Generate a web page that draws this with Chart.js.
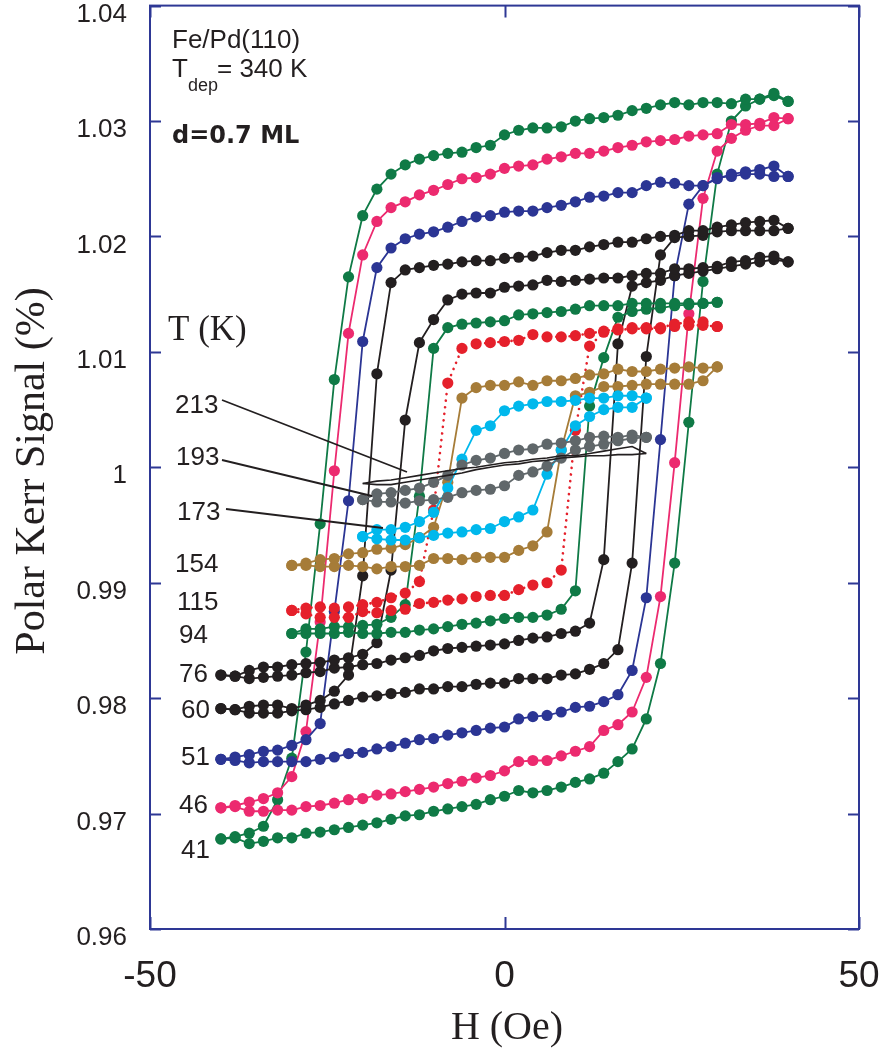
<!DOCTYPE html>
<html>
<head>
<meta charset="utf-8">
<title>Fe/Pd(110) polar Kerr loops</title>
<script src="https://cdn.jsdelivr.net/npm/chart.js@4.4.1/dist/chart.umd.min.js"></script>
<style>
  html, body { margin: 0; padding: 0; background: #fff; }
  #wrap { width: 882px; height: 1059px; }
</style>
</head>
<body>
<div id="wrap"><canvas id="kerr" width="882" height="1059"></canvas></div>
<script>
// field sweeps (Oe)
var h40 = [-40, -38, -36, -34, -32, -30, -28, -26, -24, -22, -20, -18, -16, -14, -12, -10, -8, -6, -4, -2,
           0, 2, 4, 6, 8, 10, 12, 14, 16, 18, 20, 22, 24, 26, 28, 30, 32, 34, 36, 38, 40];
var h30 = [-30, -28, -26, -24, -22, -20, -18, -16, -14, -12, -10, -8, -6, -4, -2,
           0, 2, 4, 6, 8, 10, 12, 14, 16, 18, 20, 22, 24, 26, 28, 30];
var h20 = [-20, -18, -16, -14, -12, -10, -8, -6, -4, -2, 0, 2, 4, 6, 8, 10, 12, 14, 16, 18, 20];

// Kerr signal (%). "up" = field swept upwards, "down" = field swept downwards.
// Both branches are listed from negative to positive field.
var up41 = [0.9678, 0.9679, 0.9674, 0.9676, 0.9679, 0.9679, 0.9683, 0.9684, 0.9686, 0.9688,
            0.9690, 0.9692, 0.9695, 0.9698, 0.9699, 0.9702, 0.9704, 0.9706, 0.9708, 0.9712,
            0.9715, 0.9720, 0.9718, 0.9720, 0.9723, 0.9727, 0.9730, 0.9735, 0.9745, 0.9756,
            0.9782, 0.9830, 0.9917, 1.0039, 1.0161, 1.0254, 1.0300, 1.0313, 1.0319, 1.0322,
            1.0317];
var down41 = [0.9678, 0.9680, 0.9683, 0.9689, 0.9712, 0.9748, 0.9840, 0.9951, 1.0076, 1.0165,
              1.0218, 1.0241, 1.0254, 1.0262, 1.0267, 1.0270, 1.0272, 1.0273, 1.0277, 1.0279,
              1.0288, 1.0292, 1.0294, 1.0294, 1.0295, 1.0300, 1.0302, 1.0303, 1.0305, 1.0309,
              1.0311, 1.0314, 1.0316, 1.0314, 1.0316, 1.0316, 1.0315, 1.0319, 1.0319, 1.0324,
              1.0317];

var up46 = [0.9705, 0.9706, 0.9702, 0.9702, 0.9703, 0.9703, 0.9706, 0.9707, 0.9709, 0.9712,
            0.9713, 0.9716, 0.9717, 0.9719, 0.9721, 0.9723, 0.9726, 0.9728, 0.9731, 0.9733,
            0.9737, 0.9745, 0.9746, 0.9746, 0.9750, 0.9754, 0.9758, 0.9772, 0.9777, 0.9788,
            0.9818, 0.9888, 1.0004, 1.0133, 1.0233, 1.0274, 1.0285, 1.0292, 1.0296, 1.0296,
            1.0302];
var down46 = [0.9705, 0.9707, 0.9710, 0.9713, 0.9718, 0.9732, 0.9771, 0.9866, 0.9997, 1.0116,
              1.0184, 1.0213, 1.0225, 1.0230, 1.0236, 1.0240, 1.0245, 1.0250, 1.0251, 1.0254,
              1.0259, 1.0261, 1.0262, 1.0267, 1.0269, 1.0272, 1.0272, 1.0274, 1.0277, 1.0279,
              1.0282, 1.0283, 1.0284, 1.0287, 1.0288, 1.0289, 1.0297, 1.0297, 1.0298, 1.0303,
              1.0302];

var up51 = [0.9747, 0.9746, 0.9744, 0.9745, 0.9745, 0.9745, 0.9745, 0.9747, 0.9749, 0.9752,
            0.9753, 0.9756, 0.9758, 0.9761, 0.9764, 0.9765, 0.9768, 0.9770, 0.9772, 0.9774,
            0.9775, 0.9782, 0.9784, 0.9785, 0.9788, 0.9792, 0.9793, 0.9797, 0.9803, 0.9824,
            0.9887, 1.0024, 1.0166, 1.0228, 1.0244, 1.0250, 1.0254, 1.0256, 1.0258, 1.0261,
            1.0252];
var down51 = [0.9747, 0.9749, 0.9751, 0.9754, 0.9755, 0.9759, 0.9764, 0.9778, 0.9875, 0.9971,
              1.0109, 1.0173, 1.0190, 1.0198, 1.0202, 1.0204, 1.0208, 1.0213, 1.0217, 1.0218,
              1.0221, 1.0222, 1.0222, 1.0225, 1.0227, 1.0230, 1.0234, 1.0235, 1.0238, 1.0238,
              1.0244, 1.0247, 1.0246, 1.0244, 1.0244, 1.0251, 1.0252, 1.0254, 1.0254, 1.0252,
              1.0252];

var up60 = [0.9791, 0.9790, 0.9787, 0.9787, 0.9787, 0.9789, 0.9790, 0.9792, 0.9795, 0.9798,
            0.9801, 0.9802, 0.9804, 0.9805, 0.9808, 0.9808, 0.9810, 0.9810, 0.9812, 0.9813,
            0.9813, 0.9817, 0.9817, 0.9817, 0.9820, 0.9821, 0.9825, 0.9830, 0.9842, 0.9917,
            1.0096, 1.0184, 1.0199, 1.0200, 1.0201, 1.0204, 1.0205, 1.0205, 1.0205, 1.0205,
            1.0207];
var down60 = [0.9791, 0.9790, 0.9793, 0.9794, 0.9794, 0.9791, 0.9794, 0.9798, 0.9806, 0.9820,
              0.9906, 1.0081, 1.0160, 1.0171, 1.0173, 1.0175, 1.0176, 1.0178, 1.0179, 1.0179,
              1.0181, 1.0182, 1.0183, 1.0186, 1.0188, 1.0188, 1.0191, 1.0193, 1.0195, 1.0195,
              1.0198, 1.0200, 1.0201, 1.0205, 1.0205, 1.0208, 1.0210, 1.0212, 1.0213, 1.0214,
              1.0207];

var up76 = [0.9820, 0.9819, 0.9817, 0.9818, 0.9819, 0.9820, 0.9822, 0.9823, 0.9826, 0.9827,
            0.9829, 0.9830, 0.9833, 0.9835, 0.9837, 0.9841, 0.9843, 0.9844, 0.9845, 0.9846,
            0.9847, 0.9850, 0.9852, 0.9853, 0.9856, 0.9858, 0.9865, 0.9920, 1.0107, 1.0157,
            1.0160, 1.0162, 1.0166, 1.0168, 1.0170, 1.0172, 1.0174, 1.0176, 1.0178, 1.0180,
            1.0178];
var down76 = [0.9820, 0.9819, 0.9824, 0.9827, 0.9827, 0.9829, 0.9830, 0.9831, 0.9833, 0.9835,
              0.9838, 0.9848, 0.9911, 1.0041, 1.0108, 1.0128, 1.0145, 1.0150, 1.0151, 1.0151,
              1.0156, 1.0157, 1.0158, 1.0162, 1.0161, 1.0162, 1.0163, 1.0164, 1.0164, 1.0166,
              1.0168, 1.0168, 1.0172, 1.0172, 1.0173, 1.0174, 1.0178, 1.0179, 1.0182, 1.0183,
              1.0178];

var up94 = [0.9856, 0.9856, 0.9856, 0.9856, 0.9857, 0.9856, 0.9856, 0.9857, 0.9857, 0.9859,
            0.9860, 0.9862, 0.9864, 0.9865, 0.9867, 0.9869, 0.9870, 0.9870, 0.9872, 0.9877,
            0.9893, 1.0053, 1.0095, 1.0130, 1.0135, 1.0137, 1.0138, 1.0140, 1.0141, 1.0142,
            1.0143];
var down94 = [0.9856, 0.9860, 0.9860, 0.9862, 0.9862, 0.9863, 0.9864, 0.9870, 0.9881, 0.9975,
              1.0103, 1.0121, 1.0124, 1.0125, 1.0126, 1.0127, 1.0132, 1.0133, 1.0134, 1.0135,
              1.0137, 1.0140, 1.0140, 1.0140, 1.0142, 1.0142, 1.0142, 1.0142, 1.0142, 1.0142,
              1.0143];

var up115 = [0.9876, 0.9873, 0.9870, 0.9870, 0.9870, 0.9875, 0.9874, 0.9876, 0.9877, 0.9882,
             0.9883, 0.9885, 0.9886, 0.9888, 0.9889, 0.9889, 0.9894, 0.9898, 0.9900, 0.9911,
             1.0032, 1.0105, 1.0117, 1.0119, 1.0120, 1.0120, 1.0120, 1.0122, 1.0123, 1.0123,
             1.0122];
var down115 = [0.9876, 0.9878, 0.9879, 0.9878, 0.9879, 0.9881, 0.9883, 0.9887, 0.9891, 0.9901,
               0.9963, 1.0073, 1.0103, 1.0107, 1.0108, 1.0109, 1.0110, 1.0115, 1.0113, 1.0113,
               1.0114, 1.0116, 1.0118, 1.0120, 1.0121, 1.0121, 1.0121, 1.0124, 1.0126, 1.0126,
               1.0122];

var up154 = [0.9915, 0.9915, 0.9914, 0.9914, 0.9915, 0.9914, 0.9912, 0.9914, 0.9914, 0.9915,
             0.9921, 0.9921, 0.9920, 0.9922, 0.9922, 0.9922, 0.9928, 0.9932, 0.9944, 1.0015,
             1.0062, 1.0065, 1.0070, 1.0070, 1.0071, 1.0072, 1.0072, 1.0072, 1.0072, 1.0075,
             1.0087];
var down154 = [0.9915, 0.9917, 0.9920, 0.9921, 0.9925, 0.9926, 0.9929, 0.9930, 0.9933, 0.9939,
               0.9948, 0.9987, 1.0060, 1.0069, 1.0071, 1.0071, 1.0074, 1.0071, 1.0075, 1.0075,
               1.0077, 1.0080, 1.0081, 1.0085, 1.0083, 1.0083, 1.0085, 1.0086, 1.0087, 1.0086,
               1.0087];

var up173 = [0.9940, 0.9938, 0.9937, 0.9937, 0.9939, 0.9941, 0.9943, 0.9944, 0.9946, 0.9947,
             0.9953, 0.9957, 0.9963, 0.9994, 1.0015, 1.0036, 1.0044, 1.0050, 1.0052, 1.0052,
             1.0060];
var down173 = [0.9940, 0.9946, 0.9946, 0.9948, 0.9953, 0.9961, 0.9982, 1.0007, 1.0032, 1.0036,
               1.0049, 1.0053, 1.0055, 1.0057, 1.0057, 1.0058, 1.0060, 1.0060, 1.0062, 1.0062,
               1.0060];

var up193 = [0.9972, 0.9970, 0.9970, 0.9969, 0.9971, 0.9972, 0.9974, 0.9978, 0.9980, 0.9981,
             0.9984, 0.9993, 0.9996, 1.0001, 1.0008, 1.0015, 1.0018, 1.0020, 1.0023, 1.0025,
             1.0026];
var down193 = [0.9972, 0.9977, 0.9978, 0.9980, 0.9982, 0.9987, 0.9993, 1.0002, 1.0006, 1.0008,
               1.0012, 1.0015, 1.0016, 1.0020, 1.0021, 1.0023, 1.0026, 1.0027, 1.0026, 1.0028,
               1.0026];

var up213 = [0.9986, 0.9985, 0.9985, 0.9987, 0.9989, 0.9991, 0.9993, 0.9995, 0.9998, 1.0000,
             1.0002, 1.0003, 1.0005, 1.0006, 1.0008, 1.0009, 1.0010, 1.0010, 1.0011, 1.0011,
             1.0012];
var down213 = [0.9986, 0.9988, 0.9989, 0.9991, 0.9993, 0.9995, 0.9997, 0.9999, 1.0000, 1.0002,
               1.0004, 1.0005, 1.0007, 1.0008, 1.0010, 1.0010, 1.0012, 1.0014, 1.0016, 1.0018,
               1.0012];

var xTickValues = [-50, 0, 50];
var temps = ['213', '193', '173', '154', '115', '94', '76', '60', '51', '46', '41'];

var GREEN = '#0f7a46', PINK = '#ec2a6f', BLUE = '#2b3594', BLACK = '#231f20',
    RED = '#e5202b', BROWN = '#a67c38', CYAN = '#00b8ec', GRAY = '#60676a';
var AXIS = '#2e3895';

// first entry ends up on top
var loops = [
  { t: '213', h: h20, up: up213, down: down213, color: BLACK, dots: false },
  { t: '193', h: h20, up: up193, down: down193, color: GRAY },
  { t: '173', h: h20, up: up173, down: down173, color: CYAN },
  { t: '154', h: h30, up: up154, down: down154, color: BROWN },
  { t: '115', h: h30, up: up115, down: down115, color: RED, dotted: true },
  { t: '94',  h: h30, up: up94,  down: down94,  color: GREEN },
  { t: '76',  h: h40, up: up76,  down: down76,  color: BLACK },
  { t: '60',  h: h40, up: up60,  down: down60,  color: BLACK },
  { t: '51',  h: h40, up: up51,  down: down51,  color: BLUE },
  { t: '46',  h: h40, up: up46,  down: down46,  color: PINK },
  { t: '41',  h: h40, up: up41,  down: down41,  color: GREEN }
];

function branch(fields, values) {
  return fields.map(function (h, i) { return { x: h, y: values[i] }; });
}

var datasets = [];
loops.forEach(function (l) {
  [['down', l.down], ['up', l.up]].forEach(function (b) {
    datasets.push({
      label: l.t + ' K ' + b[0],
      data: branch(l.h, b[1]),
      showLine: true,
      borderColor: l.color,
      backgroundColor: l.color,
      borderWidth: l.dots === false ? 1.6 : (l.dotted ? 2.6 : 1.8),
      borderDash: l.dotted ? [0.1, 6.5] : [],
      borderCapStyle: l.dotted ? 'round' : 'butt',
      pointRadius: l.dots === false ? 0 : 5.6,
      pointBorderWidth: 0,
      pointHoverRadius: 0
    });
  });
});

function text(ctx, s, x, y, font, align) {
  ctx.font = font;
  ctx.textAlign = align || 'left';
  ctx.fillText(s, x, y);
}

// keep the plot box fixed: no extra room reserved for half-labels
function noLabelPadding(s) {
  s.paddingTop = 0; s.paddingBottom = 0; s.paddingLeft = 0; s.paddingRight = 0;
}

var decorations = {
  id: 'decorations',
  afterDraw: function (chart) {
    var ctx = chart.ctx, a = chart.chartArea;
    var xs = chart.scales.x, ys = chart.scales.y;
    ctx.save();

    // frame with inward ticks
    ctx.strokeStyle = AXIS;
    ctx.lineWidth = 2;
    ctx.strokeRect(a.left, a.top, a.right - a.left, a.bottom - a.top);
    ctx.beginPath();
    ys.ticks.forEach(function (t) {
      var py = Math.round(ys.getPixelForValue(t.value)) + 0.5;
      ctx.moveTo(a.left, py); ctx.lineTo(a.left + 11, py);
      ctx.moveTo(a.right, py); ctx.lineTo(a.right - 11, py);
    });
    xs.ticks.forEach(function (t) {
      var px = Math.round(xs.getPixelForValue(t.value)) + 0.5;
      ctx.moveTo(px, a.top); ctx.lineTo(px, a.top + 12);
      ctx.moveTo(px, a.bottom); ctx.lineTo(px, a.bottom - 12);
    });
    ctx.stroke();

    ctx.fillStyle = BLACK;
    ctx.textBaseline = 'alphabetic';

    // axis titles
    text(ctx, 'H (Oe)', 507, 1039, '40px "Liberation Serif"', 'center');
    ctx.save();
    ctx.translate(44, 471);
    ctx.rotate(-Math.PI / 2);
    text(ctx, 'Polar Kerr Signal (%)', 0, 0, '42px "Liberation Serif"', 'center');
    ctx.restore();

    // sample info
    text(ctx, 'Fe/Pd(110)', 172, 48, '26px "Liberation Sans"');
    text(ctx, 'T', 172, 77, '26px "Liberation Sans"');
    text(ctx, 'dep', 188, 91, '18px "Liberation Sans"');
    text(ctx, '= 340 K', 217, 77, '26px "Liberation Sans"');
    text(ctx, 'd=0.7 ML', 172, 143, 'bold 24px "DejaVu Sans"');
    text(ctx, 'T (K)', 168, 340, '35px "Liberation Serif"');

    // temperature labels
    var spots = [[175, 413], [176, 465], [177, 520], [175, 572], [177, 610], [179, 643],
                 [179, 682], [181, 718], [181, 765], [179, 813], [181, 858]];
    temps.forEach(function (s, i) {
      text(ctx, s, spots[i][0], spots[i][1], '26px "Liberation Sans"');
    });

    // leader lines for the small high-temperature loops
    ctx.strokeStyle = BLACK;
    ctx.lineWidth = 1.8;
    ctx.beginPath();
    ctx.moveTo(222, 400); ctx.lineTo(407, 472);
    ctx.moveTo(222, 460); ctx.lineTo(372, 496);
    ctx.moveTo(226, 509); ctx.lineTo(383, 528);
    ctx.stroke();
    ctx.restore();
  }
};

new Chart(document.getElementById('kerr'), {
  type: 'scatter',
  data: { datasets: datasets },
  options: {
    responsive: false,
    devicePixelRatio: 1,
    animation: false,
    events: [],
    layout: { padding: { left: 0, top: 5, right: 23, bottom: 0 } },
    plugins: { legend: { display: false }, tooltip: { enabled: false } },
    scales: {
      x: {
        type: 'linear',
        min: -50,
        max: 50,
        afterFit: function (s) { s.height = 130; noLabelPadding(s); },
        afterBuildTicks: function (s) { s.ticks = xTickValues.map(function (v) { return { value: v }; }); },
        grid: { display: false, drawTicks: false },
        border: { display: false },
        ticks: {
          color: BLACK,
          font: { family: 'Liberation Sans', size: 37 },
          padding: 26,
          maxRotation: 0,
          autoSkip: false
        }
      },
      y: {
        min: 0.96,
        max: 1.04,
        afterFit: function (s) { s.width = 150; noLabelPadding(s); },
        grid: { display: false, drawTicks: false },
        border: { display: false },
        ticks: {
          stepSize: 0.01,
          color: BLACK,
          font: { family: 'Liberation Sans', size: 26 },
          padding: 23,
          labelOffset: 9,
          callback: function (v) { return Math.abs(v - 1) < 1e-9 ? '1' : v.toFixed(2); }
        }
      }
    }
  },
  plugins: [decorations]
});
</script>
</body>
</html>
